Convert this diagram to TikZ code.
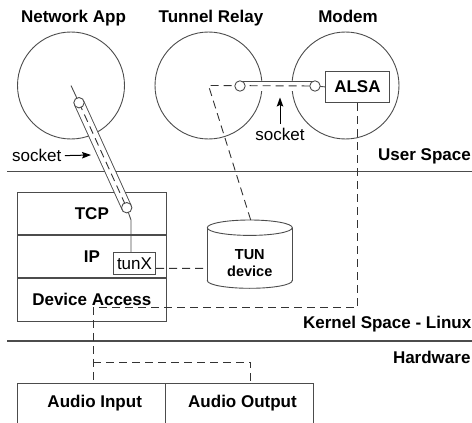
\documentclass[tikz,border=0pt]{standalone}
\usepackage{fontspec}
\setmainfont{Liberation Sans}
\usetikzlibrary{positioning,arrows.meta}

\tikzset{
  ln/.style={draw=black!70, line width=0.9pt},
  bold/.style={font=\fontsize{17}{19}\selectfont\bfseries},
  lbl/.style={font=\fontsize{17}{19}\selectfont},
  proc/.style={circle, ln, minimum size=107pt, inner sep=0pt},
  title/.style={bold, anchor=base},
  space/.style={bold, anchor=base east, inner sep=0pt},
  layer/.style={rectangle, ln, bold, minimum width=148.3pt, minimum height=42.3pt, inner sep=0pt},
  link/.style={draw=black!80, line width=0.9pt, dash pattern=on 8pt off 5pt},
  pipe/.style={draw=black!70, line width=0.9pt, double=white, double distance=9pt},
  endcap/.style={draw=black!70, line width=0.9pt, fill=white},
  arr/.style={-{Stealth[length=9pt,width=6.5pt,inset=1.5pt]}, line width=1pt},
}

\begin{document}
\begin{tikzpicture}[x=1pt,y=-1pt]
  \useasboundingbox (0,0) rectangle (472,423);

  % user space processes
  \node[proc] (app) at (71,85.5) {};
  \node[proc] (relay) at (208.5,85.5) {};
  \node[proc] (modem) at (345.5,85.5) {};
  \node[title] (apptitle) at (73.5,22) {Network App};
  \node[title] (relaytitle) at (211,22) {Tunnel Relay};
  \node[title] (modemtitle) at (348,22) {Modem};
  \node[ln, bold, fill=white, minimum width=63.3pt, minimum height=31.7pt] (alsa) at (357.4,86.9) {ALSA};

  % space separators
  \draw[ln, line width=1.3pt] (7.3,171.5) -- (472,171.5);
  \draw[ln, line width=1.3pt] (7.3,341) -- (472,341);
  \node[space] (user) at (471,160) {User Space};
  \node[space] (kernel) at (471.5,328.3) {Kernel Space - Linux};
  \node[space] (hw) at (470.7,363.5) {Hardware};

  % kernel stack
  \node[layer] (tcp) at (91.85,213.45) {TCP};
  \node[layer, below=0pt of tcp] (ip) {IP};
  \node[layer, below=0pt of ip] (dev) {Device Access};
  \node[ln, lbl, fill=white, minimum width=42.4pt, minimum height=21.3pt, inner sep=1pt] (tunx) at (134.5,263.4) {tunX};

  % TUN device
  \coordinate (tuntop) at (250.7,220);
  \coordinate (tunwest) at (207.3,268.3);
  \draw[ln] (207.3,227.7) -- (207.3,280.6);
  \draw[ln] (292.3,227.7) -- (292.3,280.6);
  \draw[ln] (249.8,227.7) ellipse [x radius=42.5, y radius=7.7];
  \begin{scope}
    \clip (200,280.6) rectangle (300,295);
    \draw[ln] (249.8,280.6) ellipse [x radius=42.5, y radius=7.7];
  \end{scope}
  \node[font=\fontsize{14.5}{17.7}\selectfont\bfseries, align=center] (tun) at (249.8,263) {TUN\\device};

  % hardware
  \draw[ln] (17.3,423) |- (313.3,383.3) -- (313.3,423);
  \draw[ln] (165.7,383.3) -- (165.7,423);
  \node[title] (ain) at (94.7,407.3) {Audio Input};
  \node[title] (aout) at (242.5,407.3) {Audio Output};
  \coordinate (inport) at (93,383.3);
  \coordinate (outport) at (250.7,383.3);

  % sockets
  \coordinate (pipeA) at (79,102.7);
  \coordinate (pipeB) at (126.7,207.7);
  \coordinate (pipeC) at (240,86);
  \coordinate (pipeD) at (315,86);
  \coordinate (bend) at (131,220);
  \draw[ln] (app.center) -- (pipeA);
  \draw[ln] (pipeB) -- (bend) -- (bend |- tunx.north);
  \draw[pipe] (pipeA) -- (pipeB);
  \draw[pipe] (pipeC) -- (pipeD);
  \draw[link] (pipeA) -- (pipeB);
  \draw[link] (tuntop) -- (relay.center) -- (pipeD);
  \draw[ln] (pipeD) -- (alsa.west);
  \foreach \p in {pipeA,pipeB,pipeC,pipeD}
    \draw[endcap] (\p) circle (5.2);

  % data paths
  \draw[link] ([yshift=-5pt]tunx.east) -- (tunwest);
  \draw[link] (alsa.south) |- (93,307.7) -- (inport);
  \draw[link] (93,362) -| (outport);

  % socket labels
  \node[lbl, anchor=base west] (sockl) at (8.7,161.7) {socket};
  \node[lbl, anchor=base] (sockr) at (280,140) {socket};
  \coordinate (pipeL) at (91,155);
  \coordinate (pipeR) at (280,97.5);
  \draw[arr] (sockl.east) -- (pipeL);
  \draw[arr] (sockr.north) -- (pipeR);
\end{tikzpicture}
\end{document}
